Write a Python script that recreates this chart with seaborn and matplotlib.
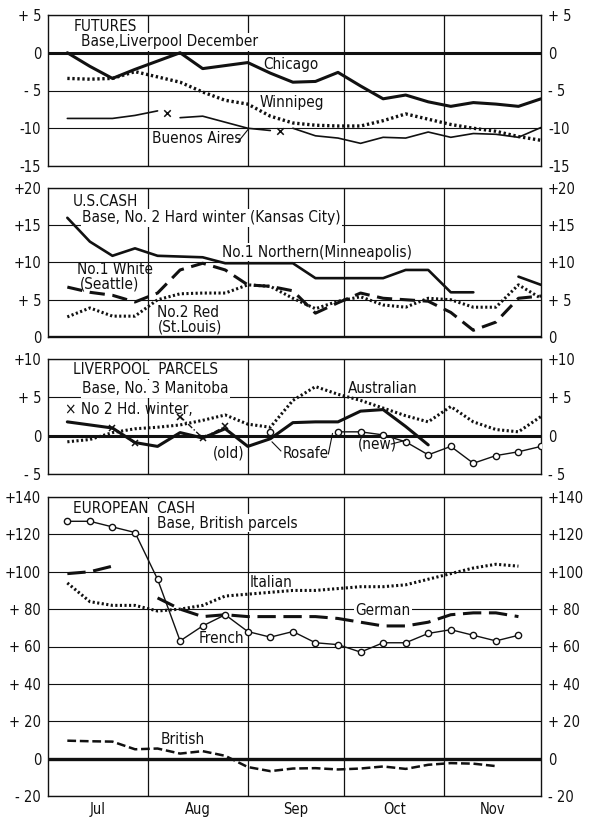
import numpy as np
import pandas as pd
import matplotlib
matplotlib.use("Agg")
import matplotlib.pyplot as plt
import seaborn as sns

sns.set_theme(style="white")
plt.rcParams["font.family"] = ["DejaVu Sans"]
plt.rcParams["font.stretch"] = "condensed"

# ---------------- data ----------------
# x positions: days after July 1 (weekly quotations)
week_days = [6, 13, 20, 27, 34, 41, 48, 55, 62, 69, 76, 83, 90, 97, 104, 111, 118, 125, 132, 139, 146, 153]
month_edges = [31, 62, 92, 123]
month_centers = [15.5, 46.5, 77, 107.5, 138]
month_labels = ["Jul", "Aug", "Sep", "Oct", "Nov"]
N = np.nan

# Futures (base Liverpool December)
fut_chicago = [0, -1.8, -3.4, -2.2, -1.1, 0, -2.1, -1.7, -1.3, -2.7, -3.9, -3.8, -2.6, -4.4, -6.1, -5.6, -6.5, -7.1, -6.6, -6.8, -7.1, -6.1]
fut_winnipeg = [-3.4, -3.5, -3.4, -2.5, -3.2, -3.9, -5.2, -6.3, -6.8, -8.4, -9.3, -9.6, -9.7, -9.7, -9.0, -8.1, -8.8, -9.5, -10.0, -10.4, -11.1, -11.6]
fut_buenos_aires = [-8.7, -8.7, -8.7, -8.3, -7.7, -8.6, -8.4, -9.2, -10.0, -10.3, -10.0, -11.0, -11.3, -12.0, -11.2, -11.3, -10.5, -11.2, -10.7, -10.8, -11.2, -9.9]
ba_segments = [(0, 5), (5, 10), (10, 22)]
fut_ba_gap_days = [37, 72]
fut_ba_gap_vals = [-8.0, -10.3]

# U.S. cash (base No. 2 Hard winter, Kansas City)
us_northern = [16.0, 12.8, 10.9, 11.9, 10.9, 10.8, 10.7, 9.9, 9.9, 9.9, 9.9, 7.9, 7.9, 7.9, 7.9, 9.0, 9.0, 6.0, 6.0, N, 8.1, 7.0]
us_white = [6.7, 6.0, 5.6, 4.7, 5.9, 9.0, 9.9, 9.0, 7.0, 6.8, 6.2, 3.2, 4.6, 5.9, 5.2, 5.0, 4.8, 3.3, 0.9, 2.0, 5.2, 5.5]
us_red = [2.7, 3.9, 2.8, 2.8, 5.0, 5.8, 5.9, 5.9, 7.0, 6.8, 5.2, 3.8, 4.8, 5.4, 4.3, 4.0, 5.2, 5.0, 4.0, 4.0, 7.0, 5.2]

# Liverpool parcels (base No. 3 Manitoba)
lp_rosafe_old = [1.8, 1.4, 1.0, -0.9, -1.4, 0.4, -0.3, 0.9, -1.4, -0.4, 1.7, 1.8, 1.8, 3.2, 3.4, 1.2, -1.2, N, N, N, N, N]
lp_rosafe_new = [N, N, N, N, N, N, N, N, N, 0.5, N, N, 0.5, 0.5, 0.1, -0.8, -2.5, -1.4, -3.6, -2.6, -2.1, -1.4]
lp_australian = [-0.8, -0.5, 0.4, 0.9, 1.1, 1.4, 2.0, 2.7, 1.5, 1.1, 4.6, 6.4, 5.4, 4.6, 3.6, 2.6, 1.8, 3.8, 1.8, 0.8, 0.5, 2.5]
lp_hd_winter = [N, N, 1.0, -1.0, N, 2.5, -0.3, 1.2, N, N, N, N, N, N, N, N, N, N, N, N, N, N]

# European cash (base British parcels)
eu_french = [127, 127, 124, 121, 96, 63, 71, 77, 68, 65, 68, 62, 61, 57, 62, 62, 67, 69, 66, 63, 66, N]
eu_italian = [94, 84, 82, 82, 79, 80, 82, 87, 88, 89, 90, 90, 91, 92, 92, 93, 96, 99, 102, 104, 103, N]
eu_german = [99, 100, 103, N, 86, 80, 76, 77, 76, 76, 76, 76, 75, 73, 71, 71, 73, 77, 78, 78, 76, N]
eu_british = [9.6, 9.3, 9.1, 5.0, 5.4, 2.7, 4.0, 1.5, -4.5, -6.7, -5.3, -5.1, -5.8, -5.3, -4.2, -5.5, -3.3, -2.4, -2.7, -4.0, N, N]

# tick labels
fut_ticks = [5, 0, -5, -10, -15]
fut_labels = ["+ 5", "0", "- 5", "-10", "-15"]
us_ticks = [20, 15, 10, 5, 0]
us_labels = ["+20", "+15", "+10", "+ 5", "0"]
lp_ticks = [10, 5, 0, -5]
lp_labels = ["+10", "+ 5", "0", "- 5"]
eu_ticks = [140, 120, 100, 80, 60, 40, 20, 0, -20]
eu_labels = ["+140", "+120", "+100", "+ 80", "+ 60", "+ 40", "+ 20", "0", "- 20"]

# ---------------- helpers ----------------
BLACK = "#111111"
DOT = (0, (0.7, 0.8))
FS = 11


def plot_series(ax, xs, ys, **kw):
    df = pd.DataFrame({"x": xs, "y": ys})
    valid = df["y"].notna()
    grp = (valid != valid.shift()).cumsum()
    kw.setdefault("color", BLACK)
    kw.setdefault("markeredgecolor", BLACK)
    for _, seg in df[valid].groupby(grp[valid]):
        sns.lineplot(data=seg, x="x", y="y", ax=ax, estimator=None, sort=False,
                     legend=False, zorder=5, **kw)


def setup(ax, ylim, ticks, labels, bottom=False):
    ax.set_xlim(0, 153)
    ax.set_ylim(*ylim)
    ax.set_yticks(ticks)
    ax.set_yticklabels(labels)
    for t in ticks:
        ax.axhline(t, color=BLACK, lw=0.8, zorder=1)
    for m in month_edges:
        ax.axvline(m, color=BLACK, lw=0.9, zorder=1)
    ax.tick_params(axis="y", length=0, labelsize=10.5, pad=5,
                   labelleft=True, labelright=True, colors=BLACK)
    ax.set_xticks(month_centers)
    if bottom:
        ax.set_xticklabels(month_labels)
        ax.tick_params(axis="x", length=0, labelsize=10.5, pad=4, colors=BLACK)
    else:
        ax.set_xticklabels([])
        ax.tick_params(axis="x", length=0)
    for s in ax.spines.values():
        s.set_color(BLACK)
        s.set_linewidth(1.0)
        s.set_visible(True)
    ax.set_xlabel("")
    ax.set_ylabel("")


def label(ax, x, y, s, size=FS, box=True, **kw):
    bb = dict(facecolor="white", edgecolor="none", pad=1.0) if box else None
    ax.text(x, y, s, fontsize=size, color=BLACK, va="center", ha="left",
            bbox=bb, zorder=3, fontstretch="condensed", **kw)


def leader(ax, p0, p1):
    ax.annotate("", xy=p1, xytext=p0,
                arrowprops=dict(arrowstyle="-", lw=0.8, color=BLACK,
                                shrinkA=0, shrinkB=0), zorder=6)


fig = plt.figure(figsize=(5.9, 8.23), dpi=100)
L, W = 48 / 590, 493 / 590


def add_axes(top_px, bottom_px):
    return fig.add_axes([L, 1 - bottom_px / 823, W, (bottom_px - top_px) / 823])


ax1 = add_axes(15, 166)
ax2 = add_axes(188, 337)
ax3 = add_axes(359, 474)
ax4 = add_axes(497, 796)

# ---------------- Futures ----------------
plot_series(ax1, week_days, fut_chicago, lw=2.2)
plot_series(ax1, week_days, fut_winnipeg, lw=2.4, linestyle=DOT)
for a, b in ba_segments:
    plot_series(ax1, week_days[a:b], fut_buenos_aires[a:b], lw=1.2)
sns.scatterplot(x=fut_ba_gap_days, y=fut_ba_gap_vals, ax=ax1, marker="x", s=22,
                color=BLACK, linewidth=1.1, legend=False, zorder=5)
setup(ax1, (-15, 5), fut_ticks, fut_labels)
ax1.axhline(0, color=BLACK, lw=2.2, zorder=2)
label(ax1, 7.8, 3.45, "FUTURES")
label(ax1, 10.2, 1.45, "Base,Liverpool December")
label(ax1, 66.7, -1.5, "Chicago", box=False)
label(ax1, 65.8, -6.6, "Winnipeg", box=False)
label(ax1, 32.3, -11.4, "Buenos Aires")
leader(ax1, (59.0, -11.8), (62.2, -10.1))

# ---------------- U.S. cash ----------------
plot_series(ax2, week_days, us_northern, lw=1.9)
plot_series(ax2, week_days, us_white, lw=2.2, linestyle=(0, (5, 2.5)))
plot_series(ax2, week_days, us_red, lw=2.2, linestyle=DOT)
setup(ax2, (0, 20), us_ticks, us_labels)
ax2.axhline(0, color=BLACK, lw=2.4, zorder=2)
label(ax2, 7.8, 18.2, "U.S.CASH")
label(ax2, 10.6, 16.0, "Base, No. 2 Hard winter (Kansas City)")
label(ax2, 54, 11.4, "No.1 Northern(Minneapolis)")
label(ax2, 9.0, 9.0, "No.1 White", box=False)
label(ax2, 10.0, 7.1, "(Seattle)", box=False)
label(ax2, 33.8, 3.3, "No.2 Red", box=False)
label(ax2, 34.1, 1.3, "(St.Louis)", box=False)

# ---------------- Liverpool parcels ----------------
plot_series(ax3, week_days, lp_australian, lw=2.2, linestyle=DOT)
plot_series(ax3, week_days, lp_rosafe_old, lw=2.2)
plot_series(ax3, week_days, lp_rosafe_new, lw=1.0, marker="o", markersize=4.5,
            markerfacecolor="white", markeredgewidth=1.0)
plot_series(ax3, week_days, lp_hd_winter, lw=1.0, linestyle=(0, (4, 1.5, 1, 1.5)),
            marker="x", markersize=4.5, markeredgewidth=1.1)
setup(ax3, (-5, 10), lp_ticks, lp_labels)
ax3.axhline(0, color=BLACK, lw=2.2, zorder=2)
label(ax3, 7.8, 8.6, "LIVERPOOL  PARCELS")
label(ax3, 10.6, 6.1, "Base, No. 3 Manitoba")
label(ax3, 5.3, 3.4, "× No 2 Hd. winter,", box=False)
label(ax3, 51.2, -2.3, "(old)", box=False)
label(ax3, 72.9, -2.3, "Rosafe", box=False)
label(ax3, 96.2, -1.1, "(new)", box=False)
label(ax3, 93.1, 6.1, "Australian", box=False)
leader(ax3, (72.3, -2.0), (69.5, -0.8))
leader(ax3, (87.0, -2.4), (88.3, 0.3))
leader(ax3, (106.5, -1.1), (111.0, -0.6))

# ---------------- European cash ----------------
plot_series(ax4, week_days, eu_italian, lw=2.2, linestyle=DOT)
plot_series(ax4, week_days, eu_german, lw=2.2, linestyle=(0, (6, 2.5)))
plot_series(ax4, week_days, eu_french, lw=1.0, marker="o", markersize=4.5,
            markerfacecolor="white", markeredgewidth=1.0)
plot_series(ax4, week_days, eu_british, lw=1.8, linestyle=(0, (3.5, 1.5)))
setup(ax4, (-20, 140), eu_ticks, eu_labels, bottom=True)
ax4.axhline(0, color=BLACK, lw=2.4, zorder=2)
label(ax4, 7.8, 134, "EUROPEAN  CASH")
label(ax4, 33.8, 126, "Base, British parcels")
label(ax4, 62.7, 94, "Italian")
label(ax4, 95.3, 79.5, "German")
label(ax4, 46.9, 64.4, "French", box=False)
label(ax4, 34.8, 10.2, "British", box=False)

fig.savefig("out.png", dpi=100, facecolor="white")
